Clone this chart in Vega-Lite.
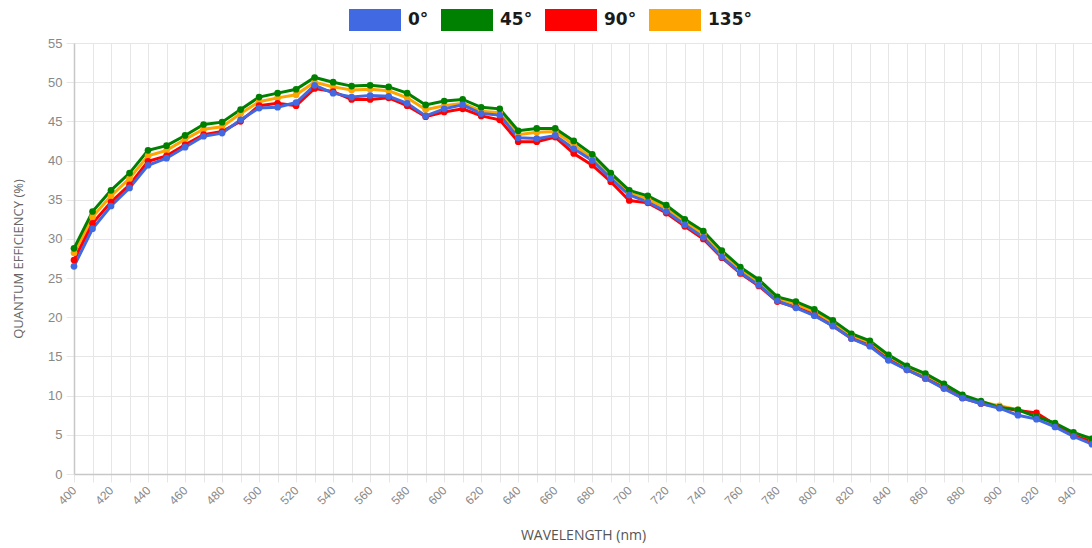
{
  "$schema": "https://vega.github.io/schema/vega-lite/v6.json",
  "width": 1018,
  "height": 431,
  "autosize": {"type": "none"},
  "padding": {"left": 74, "top": 43, "right": 0, "bottom": 74},
  "background": "white",
  "config": {"view": {"stroke": null}, "font": "Liberation Sans"},
  "data": {"values": [
    {"w":400,"s":"135°","q":28.2},{"w":400,"s":"90°","q":27.3},{"w":400,"s":"45°","q":28.8},{"w":400,"s":"0°","q":26.5},
    {"w":410,"s":"135°","q":32.8},{"w":410,"s":"90°","q":32.0},{"w":410,"s":"45°","q":33.5},{"w":410,"s":"0°","q":31.3},
    {"w":420,"s":"135°","q":35.5},{"w":420,"s":"90°","q":34.7},{"w":420,"s":"45°","q":36.2},{"w":420,"s":"0°","q":34.2},
    {"w":430,"s":"135°","q":37.7},{"w":430,"s":"90°","q":36.9},{"w":430,"s":"45°","q":38.4},{"w":430,"s":"0°","q":36.5},
    {"w":440,"s":"135°","q":40.6},{"w":440,"s":"90°","q":39.9},{"w":440,"s":"45°","q":41.3},{"w":440,"s":"0°","q":39.4},
    {"w":450,"s":"135°","q":41.3},{"w":450,"s":"90°","q":40.6},{"w":450,"s":"45°","q":41.9},{"w":450,"s":"0°","q":40.3},
    {"w":460,"s":"135°","q":42.7},{"w":460,"s":"90°","q":42.0},{"w":460,"s":"45°","q":43.2},{"w":460,"s":"0°","q":41.7},
    {"w":470,"s":"135°","q":44.0},{"w":470,"s":"90°","q":43.3},{"w":470,"s":"45°","q":44.6},{"w":470,"s":"0°","q":43.1},
    {"w":480,"s":"135°","q":44.3},{"w":480,"s":"90°","q":43.7},{"w":480,"s":"45°","q":44.9},{"w":480,"s":"0°","q":43.5},
    {"w":490,"s":"135°","q":46.0},{"w":490,"s":"90°","q":45.0},{"w":490,"s":"45°","q":46.5},{"w":490,"s":"0°","q":45.2},
    {"w":500,"s":"135°","q":47.5},{"w":500,"s":"90°","q":47.0},{"w":500,"s":"45°","q":48.1},{"w":500,"s":"0°","q":46.7},
    {"w":510,"s":"135°","q":48.0},{"w":510,"s":"90°","q":47.3},{"w":510,"s":"45°","q":48.6},{"w":510,"s":"0°","q":46.8},
    {"w":520,"s":"135°","q":48.4},{"w":520,"s":"90°","q":47.0},{"w":520,"s":"45°","q":49.1},{"w":520,"s":"0°","q":47.4},
    {"w":530,"s":"135°","q":50.0},{"w":530,"s":"90°","q":49.2},{"w":530,"s":"45°","q":50.6},{"w":530,"s":"0°","q":49.6},
    {"w":540,"s":"135°","q":49.4},{"w":540,"s":"90°","q":48.8},{"w":540,"s":"45°","q":50.0},{"w":540,"s":"0°","q":48.6},
    {"w":550,"s":"135°","q":49.0},{"w":550,"s":"90°","q":47.8},{"w":550,"s":"45°","q":49.5},{"w":550,"s":"0°","q":48.1},
    {"w":560,"s":"135°","q":49.1},{"w":560,"s":"90°","q":47.8},{"w":560,"s":"45°","q":49.6},{"w":560,"s":"0°","q":48.3},
    {"w":570,"s":"135°","q":48.9},{"w":570,"s":"90°","q":48.0},{"w":570,"s":"45°","q":49.4},{"w":570,"s":"0°","q":48.2},
    {"w":580,"s":"135°","q":48.0},{"w":580,"s":"90°","q":47.0},{"w":580,"s":"45°","q":48.6},{"w":580,"s":"0°","q":47.3},
    {"w":590,"s":"135°","q":46.5},{"w":590,"s":"90°","q":45.6},{"w":590,"s":"45°","q":47.1},{"w":590,"s":"0°","q":45.7},
    {"w":600,"s":"135°","q":47.0},{"w":600,"s":"90°","q":46.2},{"w":600,"s":"45°","q":47.6},{"w":600,"s":"0°","q":46.6},
    {"w":610,"s":"135°","q":47.3},{"w":610,"s":"90°","q":46.6},{"w":610,"s":"45°","q":47.8},{"w":610,"s":"0°","q":47.1},
    {"w":620,"s":"135°","q":46.3},{"w":620,"s":"90°","q":45.7},{"w":620,"s":"45°","q":46.8},{"w":620,"s":"0°","q":46.0},
    {"w":630,"s":"135°","q":46.1},{"w":630,"s":"90°","q":45.2},{"w":630,"s":"45°","q":46.6},{"w":630,"s":"0°","q":45.8},
    {"w":640,"s":"135°","q":43.3},{"w":640,"s":"90°","q":42.4},{"w":640,"s":"45°","q":43.8},{"w":640,"s":"0°","q":42.9},
    {"w":650,"s":"135°","q":43.6},{"w":650,"s":"90°","q":42.4},{"w":650,"s":"45°","q":44.1},{"w":650,"s":"0°","q":42.8},
    {"w":660,"s":"135°","q":43.7},{"w":660,"s":"90°","q":43.0},{"w":660,"s":"45°","q":44.1},{"w":660,"s":"0°","q":43.2},
    {"w":670,"s":"135°","q":42.0},{"w":670,"s":"90°","q":40.9},{"w":670,"s":"45°","q":42.5},{"w":670,"s":"0°","q":41.5},
    {"w":680,"s":"135°","q":40.3},{"w":680,"s":"90°","q":39.4},{"w":680,"s":"45°","q":40.8},{"w":680,"s":"0°","q":40.0},
    {"w":690,"s":"135°","q":38.0},{"w":690,"s":"90°","q":37.3},{"w":690,"s":"45°","q":38.4},{"w":690,"s":"0°","q":37.7},
    {"w":700,"s":"135°","q":35.8},{"w":700,"s":"90°","q":34.9},{"w":700,"s":"45°","q":36.2},{"w":700,"s":"0°","q":35.6},
    {"w":710,"s":"135°","q":35.1},{"w":710,"s":"90°","q":34.6},{"w":710,"s":"45°","q":35.5},{"w":710,"s":"0°","q":34.7},
    {"w":720,"s":"135°","q":33.9},{"w":720,"s":"90°","q":33.3},{"w":720,"s":"45°","q":34.3},{"w":720,"s":"0°","q":33.5},
    {"w":730,"s":"135°","q":32.2},{"w":730,"s":"90°","q":31.6},{"w":730,"s":"45°","q":32.5},{"w":730,"s":"0°","q":31.8},
    {"w":740,"s":"135°","q":30.6},{"w":740,"s":"90°","q":30.0},{"w":740,"s":"45°","q":31.0},{"w":740,"s":"0°","q":30.2},
    {"w":750,"s":"135°","q":28.2},{"w":750,"s":"90°","q":27.6},{"w":750,"s":"45°","q":28.5},{"w":750,"s":"0°","q":27.7},
    {"w":760,"s":"135°","q":26.1},{"w":760,"s":"90°","q":25.6},{"w":760,"s":"45°","q":26.4},{"w":760,"s":"0°","q":25.7},
    {"w":770,"s":"135°","q":24.5},{"w":770,"s":"90°","q":24.0},{"w":770,"s":"45°","q":24.8},{"w":770,"s":"0°","q":24.1},
    {"w":780,"s":"135°","q":22.4},{"w":780,"s":"90°","q":22.0},{"w":780,"s":"45°","q":22.6},{"w":780,"s":"0°","q":22.1},
    {"w":790,"s":"135°","q":21.7},{"w":790,"s":"90°","q":21.3},{"w":790,"s":"45°","q":22.0},{"w":790,"s":"0°","q":21.2},
    {"w":800,"s":"135°","q":20.7},{"w":800,"s":"90°","q":20.3},{"w":800,"s":"45°","q":21.0},{"w":800,"s":"0°","q":20.2},
    {"w":810,"s":"135°","q":19.3},{"w":810,"s":"90°","q":18.9},{"w":810,"s":"45°","q":19.6},{"w":810,"s":"0°","q":18.9},
    {"w":820,"s":"135°","q":17.7},{"w":820,"s":"90°","q":17.3},{"w":820,"s":"45°","q":17.9},{"w":820,"s":"0°","q":17.3},
    {"w":830,"s":"135°","q":16.7},{"w":830,"s":"90°","q":16.4},{"w":830,"s":"45°","q":17.0},{"w":830,"s":"0°","q":16.3},
    {"w":840,"s":"135°","q":15.0},{"w":840,"s":"90°","q":14.6},{"w":840,"s":"45°","q":15.2},{"w":840,"s":"0°","q":14.5},
    {"w":850,"s":"135°","q":13.6},{"w":850,"s":"90°","q":13.3},{"w":850,"s":"45°","q":13.8},{"w":850,"s":"0°","q":13.3},
    {"w":860,"s":"135°","q":12.5},{"w":860,"s":"90°","q":12.2},{"w":860,"s":"45°","q":12.8},{"w":860,"s":"0°","q":12.2},
    {"w":870,"s":"135°","q":11.3},{"w":870,"s":"90°","q":11.0},{"w":870,"s":"45°","q":11.5},{"w":870,"s":"0°","q":10.9},
    {"w":880,"s":"135°","q":9.9},{"w":880,"s":"90°","q":9.7},{"w":880,"s":"45°","q":10.1},{"w":880,"s":"0°","q":9.7},
    {"w":890,"s":"135°","q":9.2},{"w":890,"s":"90°","q":9.0},{"w":890,"s":"45°","q":9.3},{"w":890,"s":"0°","q":9.0},
    {"w":900,"s":"135°","q":8.7},{"w":900,"s":"90°","q":8.5},{"w":900,"s":"45°","q":8.5},{"w":900,"s":"0°","q":8.4},
    {"w":910,"s":"135°","q":8.2},{"w":910,"s":"90°","q":8.1},{"w":910,"s":"45°","q":8.2},{"w":910,"s":"0°","q":7.5},
    {"w":920,"s":"135°","q":7.5},{"w":920,"s":"90°","q":7.8},{"w":920,"s":"45°","q":7.3},{"w":920,"s":"0°","q":7.0},
    {"w":930,"s":"135°","q":6.4},{"w":930,"s":"90°","q":6.3},{"w":930,"s":"45°","q":6.5},{"w":930,"s":"0°","q":6.0},
    {"w":940,"s":"135°","q":5.1},{"w":940,"s":"90°","q":4.9},{"w":940,"s":"45°","q":5.3},{"w":940,"s":"0°","q":4.8},
    {"w":950,"s":"135°","q":4.3},{"w":950,"s":"90°","q":4.1},{"w":950,"s":"45°","q":4.5},{"w":950,"s":"0°","q":3.8}
  ]},
  "encoding": {
    "x": {
      "field": "w", "type": "quantitative",
      "scale": {"domain": [400, 950], "nice": false, "zero": false},
      "axis": {
        "values": [400,410,420,430,440,450,460,470,480,490,500,510,520,530,540,550,560,570,580,590,600,610,620,630,640,650,660,670,680,690,700,710,720,730,740,750,760,770,780,790,800,810,820,830,840,850,860,870,880,890,900,910,920,930,940,950],
        "labelExpr": "datum.value % 20 == 0 ? datum.label : ''",
        "labelAngle": -45, "labelAlign": "right", "labelBaseline": "middle",
        "labelFontSize": 12, "labelColor": "#888", "labelPadding": 6,
        "labelOverlap": false, "labelFlush": false,
        "grid": true, "gridColor": "#e6e6e6", "gridWidth": 1,
        "domainColor": "#c8c8c8", "domainWidth": 1.5,
        "tickColor": "#e6e6e6", "tickSize": 8,
        "title": "WAVELENGTH (nm)", "titleFont": "Open Sans", "titleFontWeight": "normal",
        "titleFontSize": 14, "titleColor": "#555", "titlePadding": 22
      }
    },
    "y": {
      "field": "q", "type": "quantitative",
      "scale": {"domain": [0, 55], "nice": false},
      "axis": {
        "values": [0,5,10,15,20,25,30,35,40,45,50,55],
        "labelFontSize": 13, "labelColor": "#888", "labelPadding": 4,
        "grid": true, "gridColor": "#e6e6e6", "gridWidth": 1,
        "domainColor": "#c8c8c8", "domainWidth": 1.5,
        "tickColor": "#e6e6e6", "tickSize": 8,
        "title": "QUANTUM EFFICIENCY (%)", "titleFont": "Open Sans", "titleFontWeight": "normal",
        "titleFontSize": 13, "titleColor": "#666", "titlePadding": 22
      }
    },
    "color": {"field": "s", "type": "nominal",
      "scale": {"domain": ["0°","45°","90°","135°"], "range": ["#4169E1","#008000","#FF0000","#FFA500"]},
      "legend": {
        "orient": "none", "legendX": 275, "legendY": -49, "direction": "horizontal",
        "title": null, "padding": 0,
        "symbolType": "M-1,-0.423H1V0.423H-1Z", "symbolSize": 2704,
        "symbolStrokeWidth": 0, "symbolOpacity": 1,
        "labelFont": "DejaVu Sans", "labelFontWeight": "bold", "labelFontSize": 17,
        "labelColor": "#1a1a1a", "labelOffset": 7, "columnPadding": 12,
        "encode": {"symbols": {"update": {"fill": {"scale": "color", "field": "value"}, "strokeWidth": {"value": 0}, "opacity": {"value": 1}}}}
      }
    }
  },
  "layer": [
    {"mark": {"type": "line", "strokeWidth": 3}},
    {"mark": {"type": "point", "filled": true, "size": 45, "opacity": 1}}
  ]
}
